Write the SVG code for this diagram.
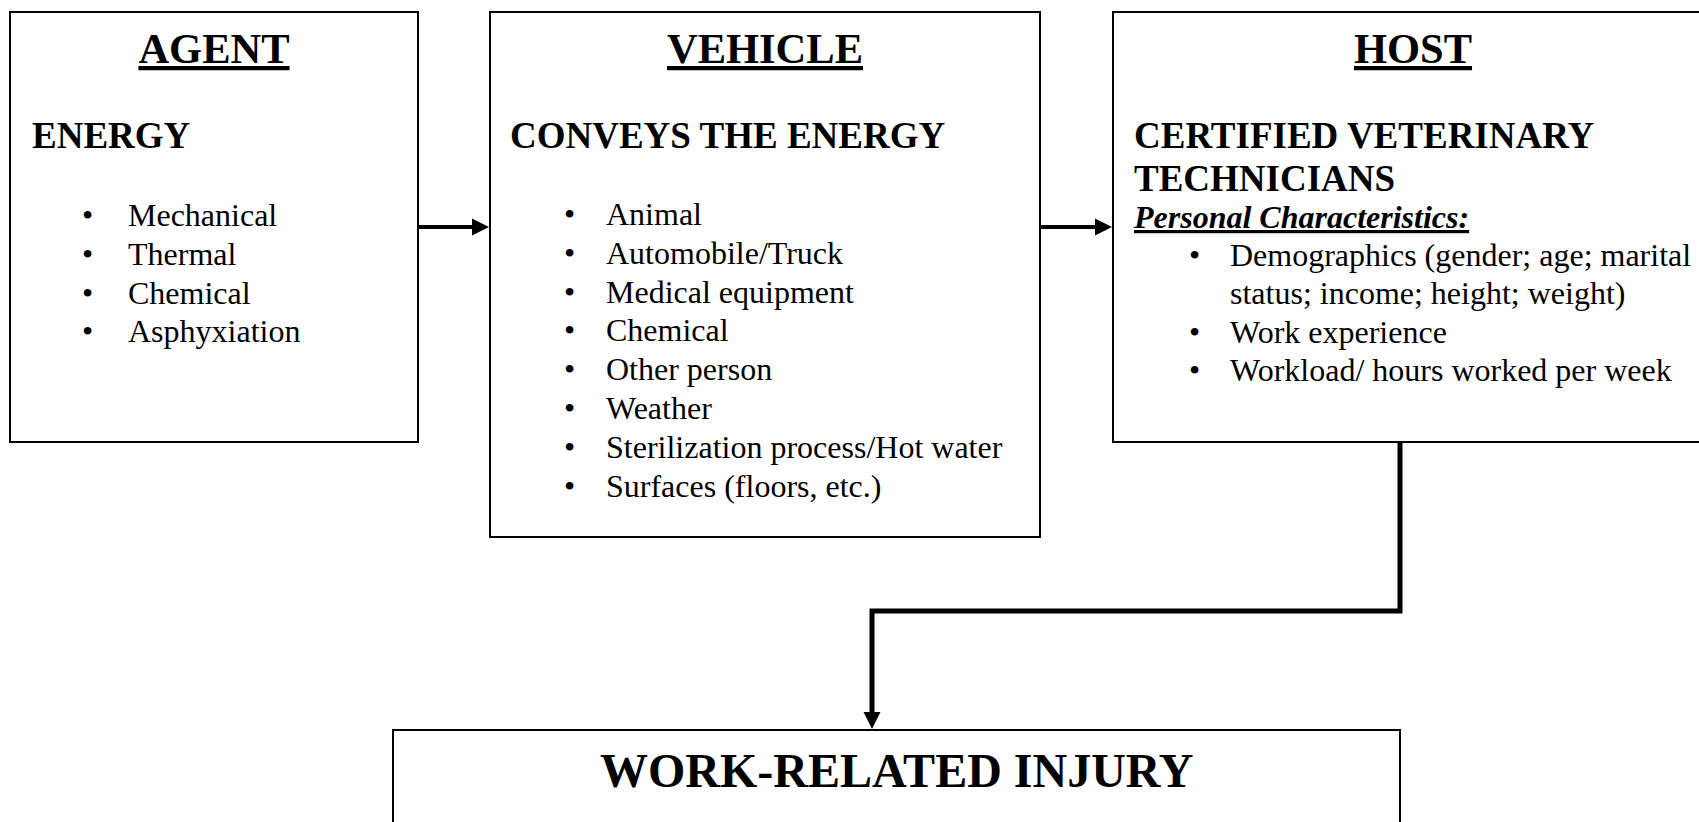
<svg xmlns="http://www.w3.org/2000/svg" width="1699" height="822" viewBox="0 0 1699 822">
<style>
.box{fill:#fff;stroke:#000;stroke-width:2}
text{font-family:"Liberation Serif","Times New Roman",serif;fill:#000}
.title{font-size:42.5px;font-weight:bold;text-decoration:underline}
.sub{font-size:37px;font-weight:bold}
.item{font-size:32px}
.pc{font-size:32px;font-weight:bold;font-style:italic;text-decoration:underline}
.big{font-size:48px;font-weight:bold}
.conn{fill:none;stroke:#000;stroke-linejoin:miter}
</style>
<rect width="1699" height="822" fill="#fff"/>
<g id="agent">
<rect class="box" x="10" y="12" width="408" height="430"/>
<text class="title" x="214" y="63" text-anchor="middle">AGENT</text>
<text class="sub" x="32" y="148">ENERGY</text>
<g class="item">
<text x="82" y="226">•</text><text x="128" y="226">Mechanical</text>
<text x="82" y="265">•</text><text x="128" y="265">Thermal</text>
<text x="82" y="303.5">•</text><text x="128" y="303.5">Chemical</text>
<text x="82" y="342">•</text><text x="128" y="342">Asphyxiation</text>
</g>
</g>
<g id="vehicle">
<rect class="box" x="490" y="12" width="550" height="525"/>
<text class="title" x="765" y="63" text-anchor="middle">VEHICLE</text>
<text class="sub" x="510" y="148">CONVEYS THE ENERGY</text>
<g class="item">
<text x="564" y="225">•</text><text x="606" y="225">Animal</text>
<text x="564" y="263.8">•</text><text x="606" y="263.8">Automobile/Truck</text>
<text x="564" y="302.6">•</text><text x="606" y="302.6">Medical equipment</text>
<text x="564" y="341.4">•</text><text x="606" y="341.4">Chemical</text>
<text x="564" y="380.2">•</text><text x="606" y="380.2">Other person</text>
<text x="564" y="419">•</text><text x="606" y="419">Weather</text>
<text x="564" y="457.8">•</text><text x="606" y="457.8">Sterilization process/Hot water</text>
<text x="564" y="496.6">•</text><text x="606" y="496.6">Surfaces (floors, etc.)</text>
</g>
</g>
<g id="host">
<rect class="box" x="1113" y="12" width="600" height="430"/>
<text class="title" x="1413" y="63" text-anchor="middle">HOST</text>
<text class="sub" x="1134" y="148">CERTIFIED VETERINARY</text>
<text class="sub" x="1134" y="191">TECHNICIANS</text>
<text class="pc" x="1134" y="228">Personal Characteristics:</text>
<g class="item">
<text x="1189" y="266">•</text><text x="1230" y="266">Demographics (gender; age; marital</text>
<text x="1230" y="304">status; income; height; weight)</text>
<text x="1189" y="342.5">•</text><text x="1230" y="342.5">Work experience</text>
<text x="1189" y="381">•</text><text x="1230" y="381">Workload/ hours worked per week</text>
</g>
</g>
<g id="injury">
<rect class="box" x="393" y="730" width="1007" height="120"/>
<text class="big" x="600" y="787">WORK-RELATED INJURY</text>
</g>
<g id="connectors">
<line class="conn" x1="418" y1="227" x2="474" y2="227" stroke-width="4"/>
<polygon points="472,218.5 489,227 472,235.5" fill="#000"/>
<line class="conn" x1="1040" y1="227" x2="1097" y2="227" stroke-width="4"/>
<polygon points="1095,218.5 1112,227 1095,235.5" fill="#000"/>
<polyline class="conn" points="1400,442 1400,611 872,611 872,714" stroke-width="5"/>
<polygon points="863.5,712 880.5,712 872,729" fill="#000"/>
</g>
</svg>
